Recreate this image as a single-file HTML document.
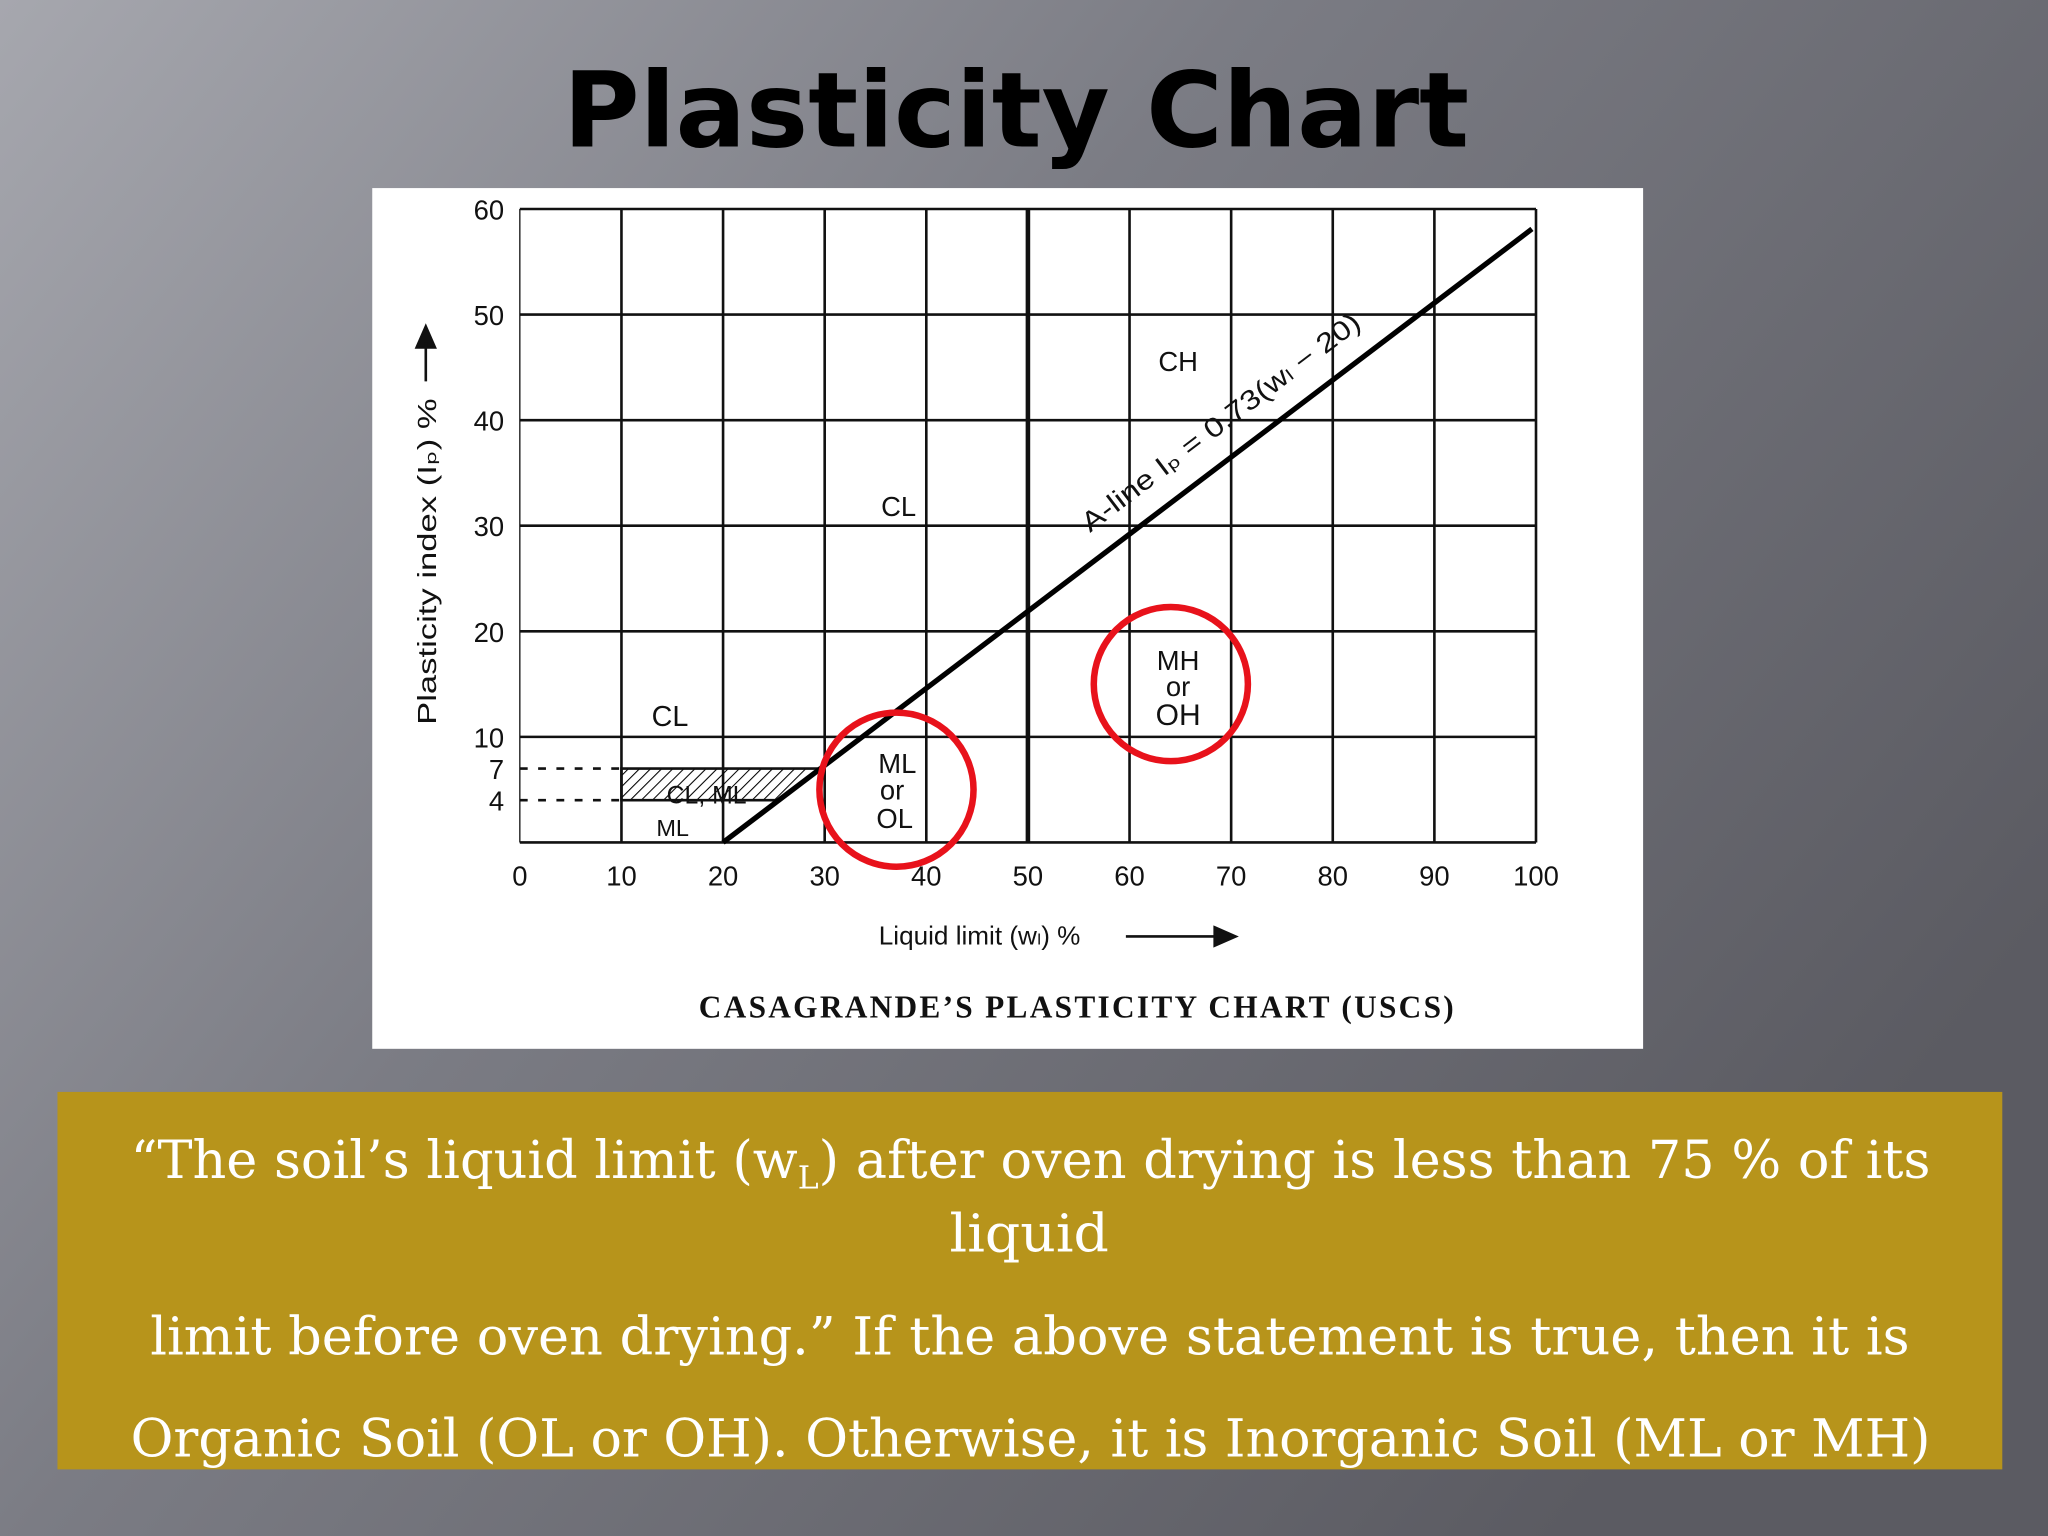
<!DOCTYPE html>
<html><head><meta charset="utf-8"><style>
html,body{margin:0;padding:0;width:2048px;height:1536px;overflow:hidden}
</style></head><body>
<svg width="2048" height="1536" viewBox="0 0 1568 1176" xmlns="http://www.w3.org/2000/svg">
<defs>
<linearGradient id="bg" x1="0" y1="0" x2="1" y2="0.6">
<stop offset="0" stop-color="#a6a7ae"/><stop offset="0.45" stop-color="#7b7c84"/><stop offset="1" stop-color="#5b5b62"/>
</linearGradient>
<pattern id="hatch" width="6" height="6" patternUnits="userSpaceOnUse" patternTransform="rotate(45)">
<line x1="0" y1="0" x2="0" y2="6" stroke="#000" stroke-width="1.6"/>
</pattern>
</defs>
<rect width="1568" height="1176" fill="url(#bg)"/>
<text x="778" y="112" text-anchor="middle" font-family="DejaVu Sans, Liberation Sans, sans-serif" font-weight="bold" font-size="80" fill="#000">Plasticity Chart</text>
<rect x="285" y="144" width="973" height="659" fill="#fff"/>
<g id="chart"></g>
<text x="535" y="779" textLength="578" lengthAdjust="spacing" font-family="Liberation Serif, serif" font-weight="bold" font-size="24" fill="#111">CASAGRANDE’S  PLASTICITY  CHART  (USCS)</text>
<rect x="44" y="836" width="1489" height="289" fill="#b7941b"/>
<g font-family="DejaVu Serif, Liberation Serif, serif" font-size="40" fill="#fff">
<text x="100" y="902" textLength="1378" lengthAdjust="spacingAndGlyphs">“The soil’s liquid limit (w<tspan font-size="24" dy="8">L</tspan><tspan dy="-8">) after oven drying is less than 75 % of its</tspan></text>
<text x="727" y="958" textLength="122" lengthAdjust="spacingAndGlyphs">liquid</text>
<text x="115" y="1037" textLength="1347" lengthAdjust="spacingAndGlyphs">limit before oven drying.” If the above statement is true, then it is</text>
<text x="100" y="1115" textLength="1378" lengthAdjust="spacingAndGlyphs">Organic Soil  (OL or OH). Otherwise, it is Inorganic Soil (ML or MH)</text>
</g>
</svg>
<script>
const xTicks=[0,10,20,30,40,50,60,70,80,90,100];
const yGrid=[0,10,20,30,40,50,60];
const yTickLabels=[4,7,10,20,30,40,50,60];
const aLineSlope=[0.73];
const aLineOffset=[20];
const aLineRange=[20,99.6];
const hatchPI=[4,7];
const circleCenters=[[37,5],[64,15]];
const NS="http://www.w3.org/2000/svg";
const g=document.getElementById('chart');
const X=v=>398+v*7.78, Y=v=>645-v*8.083;
function mk(t,a,txt){const e=document.createElementNS(NS,t);for(const k in a)e.setAttribute(k,a[k]);if(txt!==undefined)e.textContent=txt;g.appendChild(e);return e;}
xTicks.forEach(v=>{
 const l=mk('line',{x1:X(v),x2:X(v),y1:Y(60),y2:Y(0),stroke:'#111','stroke-width':v===50?3.5:(v===0?1:2)});
 
 
 const t=mk('text',{x:X(v),y:678,'text-anchor':'middle','font-family':'Liberation Sans, sans-serif','font-size':21,fill:'#111'},v);
 
 
});
yGrid.forEach(v=>{
 const l=mk('line',{x1:X(0),x2:X(100),y1:Y(v),y2:Y(v),stroke:'#111','stroke-width':2});
 
 
});
yTickLabels.forEach(v=>{
 const t=mk('text',{x:386,y:Y(v)+8,'text-anchor':'end','font-family':'Liberation Sans, sans-serif','font-size':21,fill:'#111'},v);
 
 
});
const aAt=w=>aLineSlope[0]*(w-aLineOffset[0]);
const wAt=p=>p/aLineSlope[0]+aLineOffset[0];
const hp=mk('polygon',{points:`${X(10)},${Y(hatchPI[1])} ${X(wAt(hatchPI[1]))},${Y(hatchPI[1])} ${X(wAt(hatchPI[0]))},${Y(hatchPI[0])} ${X(10)},${Y(hatchPI[0])}`,fill:'url(#hatch)',stroke:'#111','stroke-width':2});


hatchPI.forEach(p=>{
 const d=mk('line',{x1:X(0),x2:X(10),y1:Y(p),y2:Y(p),stroke:'#111','stroke-width':2,'stroke-dasharray':'6 8'});
 
 
});
const al=mk('line',{x1:X(aLineRange[0]),y1:Y(aAt(aLineRange[0])),x2:X(aLineRange[1]),y2:Y(aAt(aLineRange[1])),stroke:'#000','stroke-width':4});


const ang=Math.atan2(Y(aAt(80))-Y(aAt(40)),X(80)-X(40))*180/Math.PI;
const at=mk('text',{x:0,y:-19,'font-family':'Liberation Sans, sans-serif','font-size':21,fill:'#111',transform:`translate(${X(71)},${Y(aAt(71))}) rotate(${ang})`,'text-anchor':'middle',textLength:262,lengthAdjust:'spacingAndGlyphs'},'A-line Iₚ = 0.73(w\u2097 − 20)');


const labels=[['CL',513,556,22,'cl-label-low'],['CL, ML',541,615,19,'cl-ml-label'],['ML',515,640,18,'ml-label'],['ML',687,592,21,'ml-or-ol-1'],['or',683,612,21,'ml-or-ol-2'],['OL',685,634,21,'ml-or-ol-3'],['CL',688,395,21,'cl-label'],['CH',902,284,21,'ch-label'],['MH',902,513,21,'mh-or-oh-1'],['or',902,533,21,'mh-or-oh-2'],['OH',902,555,23,'mh-or-oh-3']];
labels.forEach(([s,x,y,f,n])=>{
 const t=mk('text',{x:x,y:y,'text-anchor':'middle','font-family':'Liberation Sans, sans-serif','font-size':f,fill:'#111'},s);
 
 
});
circleCenters.forEach((c,i)=>{
 const e=mk('circle',{cx:X(c[0])+0.5,cy:Y(c[1]),r:59,fill:'none',stroke:'#e8121b','stroke-width':5});
 
 
});
const yt=mk('text',{x:0,y:0,'text-anchor':'middle','font-family':'Liberation Sans, sans-serif','font-size':20,fill:'#111',transform:'translate(334,430) rotate(-90)',textLength:250,lengthAdjust:'spacingAndGlyphs'},'Plasticity index (Iₚ) %');


const ya=mk('path',{d:'M326 292 L326 262 M319 266 L326 250 L333 266 Z',stroke:'#111','stroke-width':2,fill:'#111'});


const xt=mk('text',{x:750,y:723,'text-anchor':'middle','font-family':'Liberation Sans, sans-serif','font-size':20,fill:'#111'},'Liquid limit (w\u2097) %');


const xa=mk('path',{d:'M862 717 L932 717 M930 710 L946 717 L930 724 Z',stroke:'#111','stroke-width':2,fill:'#111'});


</script>
</body></html>
